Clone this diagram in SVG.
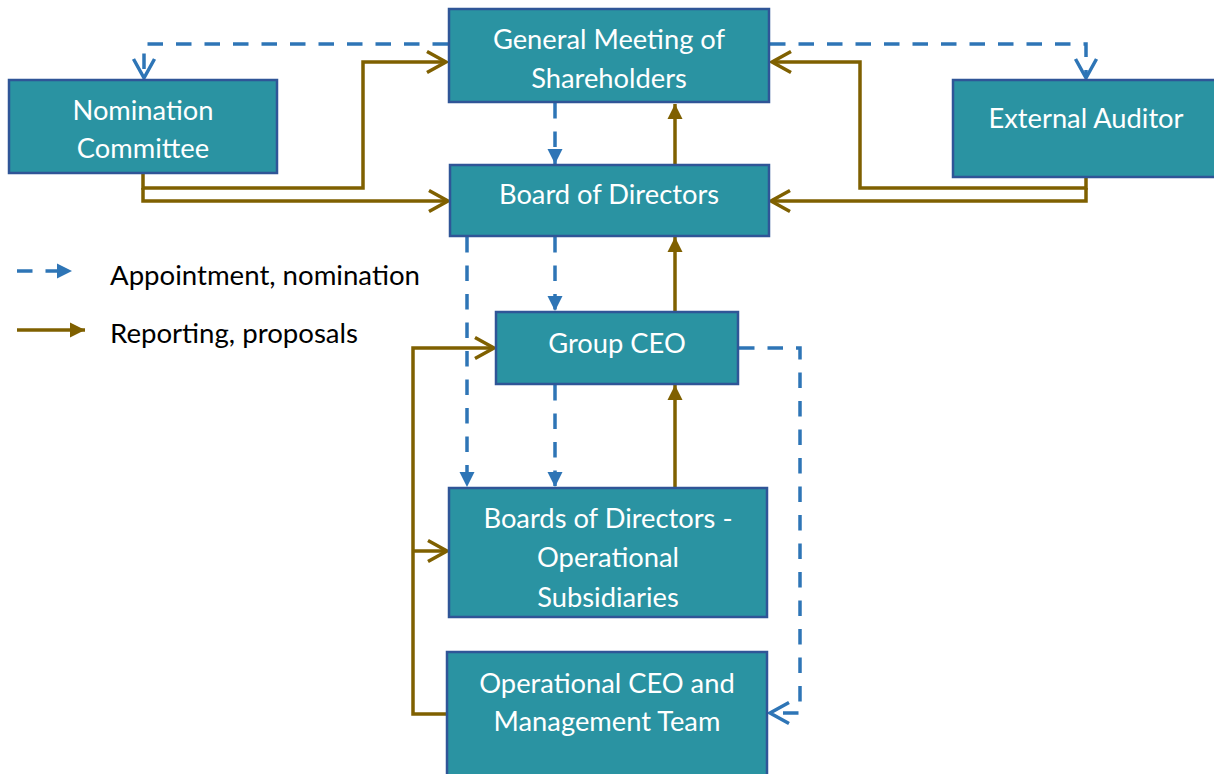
<svg xmlns="http://www.w3.org/2000/svg" width="1214" height="774" viewBox="0 0 1214 774">
<style>
.box{fill:#2A93A2;stroke:#2F5597;stroke-width:2.5}
.t{font-family:Lato,"Liberation Sans",sans-serif;font-size:27.3px;fill:#ffffff;text-anchor:middle}
.lg{font-family:Lato,"Liberation Sans",sans-serif;font-size:27.6px;fill:#000000}
.app{fill:none;stroke:#2E75B6;stroke-width:3.5;stroke-dasharray:15.5 13}
.rep{fill:none;stroke:#7F6000;stroke-width:3.5}
</style>
<defs>
<marker id="bOpen" markerUnits="userSpaceOnUse" markerWidth="30" markerHeight="30" viewBox="-25 -15 30 30" refX="0" refY="0" orient="auto"><path d="M-19,-10.5 L0,0 L-19,10.5" fill="none" stroke="#2E75B6" stroke-width="3.5"/></marker>
<marker id="bFill" markerUnits="userSpaceOnUse" markerWidth="30" markerHeight="30" viewBox="-25 -15 30 30" refX="0" refY="0" orient="auto"><path d="M-15,-7.5 L0,0 L-15,7.5 z" fill="#2E75B6"/></marker>
<marker id="rOpen" markerUnits="userSpaceOnUse" markerWidth="30" markerHeight="30" viewBox="-25 -15 30 30" refX="0" refY="0" orient="auto"><path d="M-19,-10.5 L0,0 L-19,10.5" fill="none" stroke="#7F6000" stroke-width="3.5"/></marker>
<marker id="rFill" markerUnits="userSpaceOnUse" markerWidth="30" markerHeight="30" viewBox="-25 -15 30 30" refX="0" refY="0" orient="auto"><path d="M-15,-7.5 L0,0 L-15,7.5 z" fill="#7F6000"/></marker>
</defs>
<rect width="1214" height="774" fill="#ffffff"/>
<g id="connectors">
<path class="app" d="M448,44 H144 V78" marker-end="url(#bOpen)"/>
<path class="app" d="M770,44 H1086 V78" marker-end="url(#bOpen)"/>
<path class="app" d="M555,103 V164" marker-end="url(#bFill)"/>
<path class="app" d="M555,237 V311" marker-end="url(#bFill)"/>
<path class="app" d="M467,237 V487" marker-end="url(#bFill)"/>
<path class="app" d="M555,385 V487" marker-end="url(#bFill)"/>
<path class="app" d="M739,348 H800 V713 H770" marker-end="url(#bOpen)"/>
<path class="rep" d="M143,174 V188 H363 V62 H446" marker-end="url(#rOpen)"/>
<path class="rep" d="M143,188 V201 H448" marker-end="url(#rOpen)"/>
<path class="rep" d="M1086,178 V188 H860 V62 H772" marker-end="url(#rOpen)"/>
<path class="rep" d="M1086,188 V201 H771" marker-end="url(#rOpen)"/>
<path class="rep" d="M675,164 V104" marker-end="url(#rFill)"/>
<path class="rep" d="M675,311 V237" marker-end="url(#rFill)"/>
<path class="rep" d="M675,487 V385" marker-end="url(#rFill)"/>
<path class="rep" d="M446,714 H413 V348 H494" marker-end="url(#rOpen)"/>
<path class="rep" d="M413,551 H447" marker-end="url(#rOpen)"/>
</g>
<g id="legend">
<path class="app" d="M17,271 H72" marker-end="url(#bFill)" stroke-dasharray="15 12"/>
<text class="lg" x="110" y="285">Appointment, nomination</text>
<path class="rep" d="M17,330 H85" marker-end="url(#rFill)"/>
<text class="lg" x="110" y="343">Reporting, proposals</text>
</g>
<g id="general-meeting">
<rect class="box" x="449" y="9" width="320" height="93"/>
<text class="t" x="609" y="49">General Meeting of</text>
<text class="t" x="609" y="88">Shareholders</text>
</g>
<g id="nomination-committee">
<rect class="box" x="9" y="80" width="268" height="93"/>
<text class="t" x="143" y="120">Nomination</text>
<text class="t" x="143" y="158">Committee</text>
</g>
<g id="external-auditor">
<rect class="box" x="953" y="80" width="268" height="97"/>
<text class="t" x="1086" y="128">External Auditor</text>
</g>
<g id="board-of-directors">
<rect class="box" x="450" y="165" width="319" height="71"/>
<text class="t" x="609" y="204">Board of Directors</text>
</g>
<g id="group-ceo">
<rect class="box" x="496" y="312" width="242" height="72"/>
<text class="t" x="617" y="353">Group CEO</text>
</g>
<g id="boards-subsidiaries">
<rect class="box" x="449" y="488" width="318" height="129"/>
<text class="t" x="608" y="528">Boards of Directors -</text>
<text class="t" x="608" y="567">Operational</text>
<text class="t" x="608" y="607">Subsidiaries</text>
</g>
<g id="operational-ceo">
<rect class="box" x="447" y="652" width="320" height="130"/>
<text class="t" x="607" y="693">Operational CEO and</text>
<text class="t" x="607" y="731">Management Team</text>
</g>
</svg>
